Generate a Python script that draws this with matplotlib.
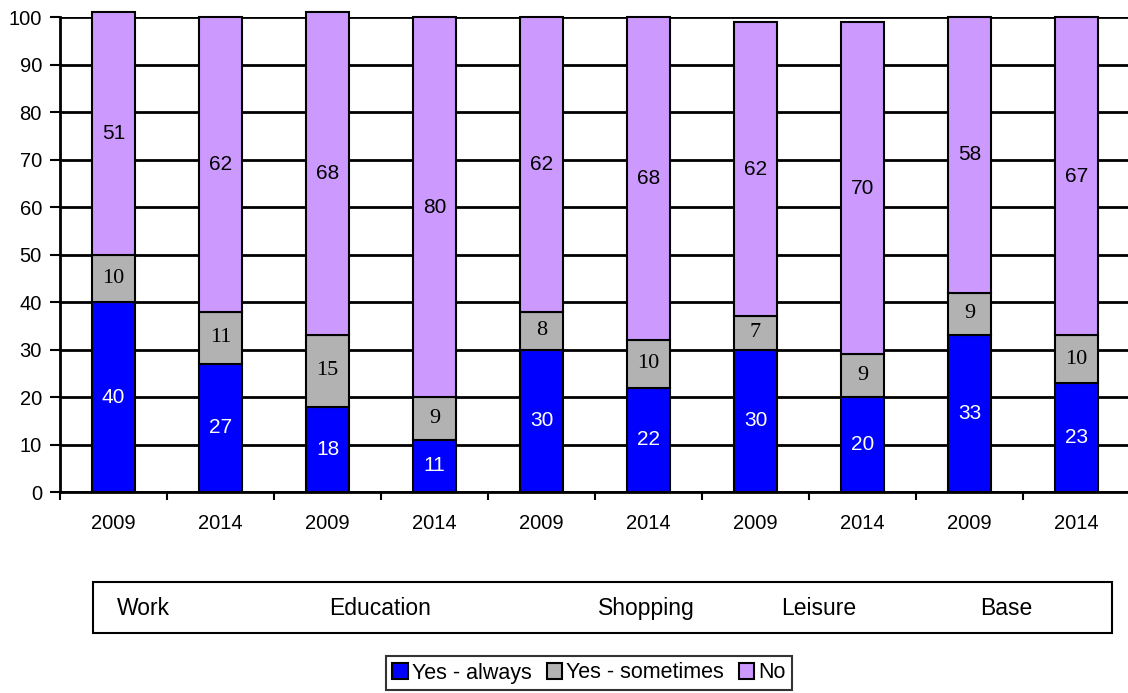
import numpy as np
import matplotlib
matplotlib.use("Agg")
import matplotlib.pyplot as plt
from matplotlib.patches import Rectangle

years = ["2009", "2014"] * 5
always = [40, 27, 18, 11, 30, 22, 30, 20, 33, 23]
sometimes = [10, 11, 15, 9, 8, 10, 7, 9, 9, 10]
no = [51, 62, 68, 80, 62, 68, 62, 70, 58, 67]

groups = ["Work", "Education", "Shopping", "Leisure", "Base"]
group_x = [0.127, 0.337, 0.573, 0.726, 0.892]  # figure coords of the group labels

series = ["Yes - always", "Yes - sometimes", "No"]
colors = ["#0000FF", "#B2B2B2", "#CC99FF"]

plt.rcParams["font.family"] = ["Liberation Sans", "DejaVu Sans"]

W, H = 1128, 693
fig = plt.figure(figsize=(W / 100, H / 100), dpi=100)
ax = fig.add_axes([60 / W, 1 - 492 / H, 1070 / W, 475 / H])

x = np.arange(len(years))
bw = 0.4
always = np.array(always)
sometimes = np.array(sometimes)
no = np.array(no)

kw = dict(edgecolor="black", linewidth=1.5, clip_on=False)
b1 = ax.bar(x, always, bw, color=colors[0], label=series[0], **kw)
b2 = ax.bar(x, sometimes, bw, bottom=always, color=colors[1], label=series[1], **kw)
b3 = ax.bar(x, no, bw, bottom=always + sometimes, color=colors[2], label=series[2], **kw)

for i in range(len(x)):
    ax.text(x[i], always[i] / 2, str(always[i]), ha="center", va="center",
            color="white", fontsize=15)
    ax.text(x[i], always[i] + sometimes[i] / 2, str(sometimes[i]), ha="center", va="center",
            color="black", fontsize=16, family="Liberation Serif")
    ax.text(x[i], always[i] + sometimes[i] + no[i] / 2, str(no[i]), ha="center", va="center",
            color="black", fontsize=15)

ax.set_xlim(-0.5, len(x) - 0.5)
ax.set_ylim(0, 100)
ax.set_yticks(np.arange(0, 101, 10))
ax.set_xticks(x)
ax.set_xticklabels(years)
ax.set_xticks(np.arange(-0.5, len(x), 1.0), minor=True)
ax.tick_params(axis="x", which="major", length=0, pad=16, labelsize=14.5)
ax.tick_params(axis="x", which="minor", length=6, width=1.5, direction="out")
ax.tick_params(axis="y", length=7, width=1.5, labelsize=14.5, pad=6)

ax.yaxis.grid(True, color="black", linewidth=2)
ax.set_axisbelow(True)
for s in ["top", "right"]:
    ax.spines[s].set_visible(False)
ax.spines["left"].set_linewidth(2)
ax.spines["bottom"].set_linewidth(2)

# group label box below the axis
fig.patches.append(Rectangle((93 / W, 1 - 633 / H), (1112 - 93) / W, 51 / H,
                             transform=fig.transFigure, fill=False,
                             edgecolor="black", linewidth=1.5))
for g, gx in zip(groups, group_x):
    fig.text(gx, 1 - 615 / H, g, ha="center", va="baseline", fontsize=16.5)

leg = fig.legend(handles=[b1, b2, b3], labels=series, loc="center",
                 bbox_to_anchor=(589 / W, 1 - 673 / H), ncol=3, fontsize=15.5,
                 frameon=True, fancybox=False, edgecolor="black",
                 handlelength=0.7, handleheight=0.7, handletextpad=0.2,
                 columnspacing=0.7, borderpad=0.3, borderaxespad=0)
leg.get_frame().set_linewidth(1.5)

fig.savefig("out.png", dpi=100)
